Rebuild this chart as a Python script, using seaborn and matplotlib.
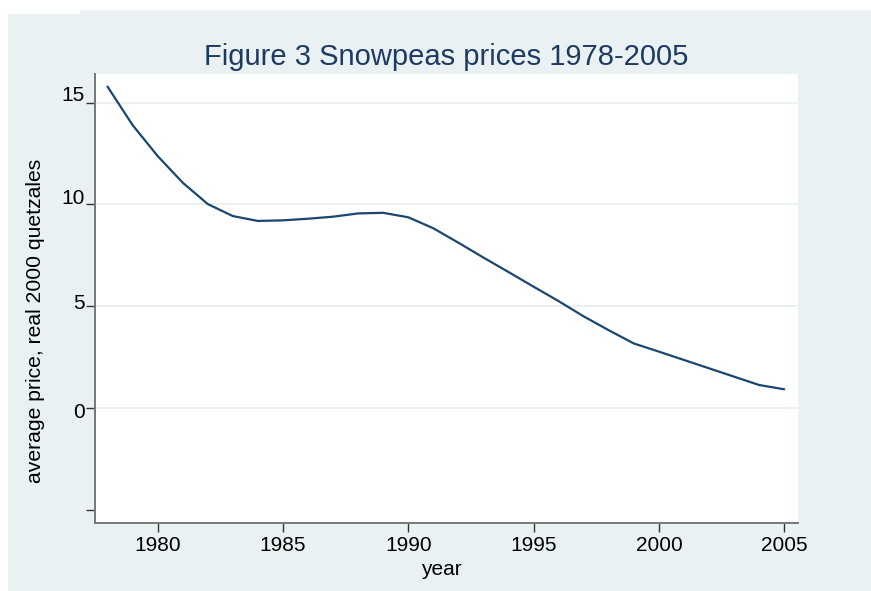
import matplotlib
matplotlib.use("Agg")
import matplotlib.pyplot as plt
from matplotlib.patches import Rectangle
import matplotlib.transforms as mtransforms
import seaborn as sns
import pandas as pd

# ---- data ----
years = list(range(1978, 2006))
prices = [15.79, 13.90, 12.38, 11.07, 10.02, 9.43, 9.19, 9.22, 9.30, 9.40,
          9.56, 9.59, 9.37, 8.83, 8.12, 7.39, 6.68, 5.96, 5.25, 4.50,
          3.82, 3.17, 2.77, 2.36, 1.95, 1.54, 1.13, 0.92]
x_ticks = [1980, 1985, 1990, 1995, 2000, 2005]
y_ticks = [-5, 0, 5, 10, 15]
y_tick_labels = ["", "0", "5", "10", "15"]
grid_values = [0, 5, 10, 15]
title = "Figure 3 Snowpeas prices 1978-2005"
x_label = "year"
y_label = "average price, real 2000 quetzales"

df = pd.DataFrame({"year": years, "price": prices})

sns.set_theme(style="white")
plt.rcParams["font.family"] = ["Liberation Sans", "DejaVu Sans"]

BG = "#EAF1F3"
LINE = "#1A476F"
TITLE_C = "#1E3A62"
AX_C = "#777777"

W, H = 871, 591
fig = plt.figure(figsize=(W / 100, H / 100), dpi=100, facecolor="white")
fig.patches.append(Rectangle((8 / W, 0), 1 - 8 / W, (H - 10) / H,
                             transform=fig.transFigure, facecolor=BG,
                             edgecolor="none", zorder=-10))
fig.patches.append(Rectangle((8 / W, (H - 14) / H), 72 / W, 4 / H,
                             transform=fig.transFigure, facecolor="white",
                             edgecolor="none", zorder=-9))

left, right, top, bottom = 95, 798, 74, 523
ax = fig.add_axes([left / W, 1 - bottom / H, (right - left) / W, (bottom - top) / H])
ax.set_facecolor("white")

for g in grid_values:
    ax.axhline(g, color="#E8EFF2", lw=1.3, zorder=0)

sns.lineplot(data=df, x="year", y="price", color=LINE, lw=1.6, ax=ax, zorder=3)

ax.set_xlim(1977.5, 2005.55)
ax.set_ylim(-5.65, 16.41)
ax.set_xticks(x_ticks)
ax.set_xticklabels([str(t) for t in x_ticks])
ax.set_yticks(y_ticks)
ax.set_yticklabels(y_tick_labels)

for s in ["top", "right"]:
    ax.spines[s].set_visible(False)
for s in ["left", "bottom"]:
    ax.spines[s].set_color(AX_C)
    ax.spines[s].set_linewidth(1.4)

ax.tick_params(axis="both", which="major", direction="out", length=6.5,
               width=1.0, color="#333333", labelsize=15, labelcolor="black",
               bottom=True, left=True)
ax.tick_params(axis="x", pad=3)
ax.tick_params(axis="y", pad=0.8)

# y tick labels sit slightly above their ticks in the reference
y_label_shift_px = {"15": 9, "10": 8, "5": 5, "0": -2}
for lab in ax.get_yticklabels():
    dy = y_label_shift_px.get(lab.get_text(), 0)
    lab.set_transform(lab.get_transform() +
                      mtransforms.ScaledTranslation(0, dy / 100, fig.dpi_scale_trans))

ax.set_xlabel(x_label, fontsize=15, color="black", va="baseline")
ax.xaxis.set_label_coords((441 - left) / (right - left), (bottom - 575) / (bottom - top))
ax.set_ylabel(y_label, fontsize=15.2, color="black", va="center")
ax.yaxis.set_label_coords((36 - left) / (right - left), (bottom - 321) / (bottom - top))

fig.text(446.5 / W, 1 - 65 / H, title, fontsize=21, color=TITLE_C,
         ha="center", va="baseline")

fig.savefig("out.png", dpi=100, facecolor=fig.get_facecolor())
